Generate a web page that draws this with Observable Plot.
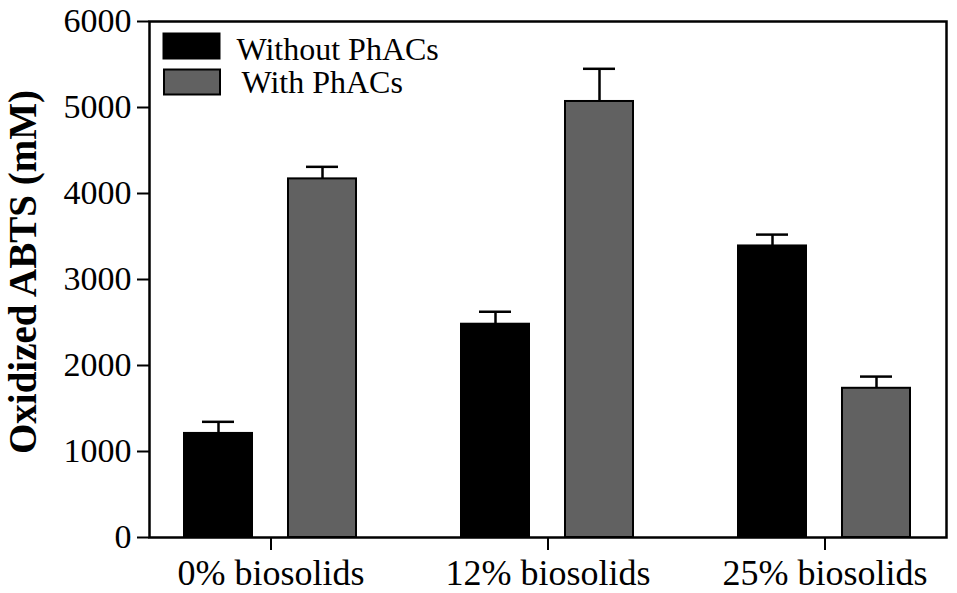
<!DOCTYPE html>
<html>
<head>
<meta charset="utf-8">
<script src="https://cdn.jsdelivr.net/npm/d3@7"></script>
<script src="https://cdn.jsdelivr.net/npm/@observablehq/plot@0.6"></script>
<style>
  html, body { margin: 0; padding: 0; background: #fff; }
</style>
</head>
<body>
<div id="chart"></div>
<script>
const groups = ["0% biosolids", "12% biosolids", "25% biosolids"];
const series = ["Without PhACs", "With PhACs"];
const withoutValues = [1210, 2480, 3390];
const withValues = [4170, 5070, 1735];
const withoutErrors = [135, 145, 132];
const withErrors = [140, 380, 136];
const yTicks = [0, 1000, 2000, 3000, 4000, 5000, 6000];
const seriesColors = ["#000000", "#616161"];
const yLabel = "Oxidized ABTS (mM)";

const data = groups.flatMap((g, i) => [
  {group: g, series: series[0], value: withoutValues[i], err: withoutErrors[i]},
  {group: g, series: series[1], value: withValues[i], err: withErrors[i]}
]);

// rectangular legend swatch symbol
const rectSymbol = {
  draw(ctx) {
    ctx.moveTo(-28, -12.5);
    ctx.lineTo(28, -12.5);
    ctx.lineTo(28, 12.5);
    ctx.lineTo(-28, 12.5);
    ctx.closePath();
  }
};

const legendSwatchDx = [42, 42.5];
const legendSwatchDy = [24.5, 60.5];
const legendTextDx = [87, 92];
const legendTextDy = [28, 61];

const chart = Plot.plot({
  width: 957,
  height: 593,
  marginLeft: 148,
  marginRight: 9,
  marginTop: 21,
  marginBottom: 56,
  style: {
    fontFamily: "'Liberation Serif', 'Times New Roman', serif",
    color: "#000",
    background: "#fff",
    overflow: "visible"
  },
  fx: {domain: groups, paddingInner: 0.122, paddingOuter: 0, label: null, axis: null},
  x: {domain: series, paddingInner: 0.343, paddingOuter: 0.333, axis: null},
  y: {domain: [0, 6000], axis: null},
  color: {domain: series, range: seriesColors},
  marks: [
    Plot.barY(data, {fx: "group", x: "series", y: "value", fill: "series", stroke: "#000", strokeWidth: 2}),
    Plot.ruleX(data, {fx: "group", x: "series", y1: "value", y2: d => d.value + d.err, stroke: "#000", strokeWidth: 2.5}),
    Plot.tickY(data, {fx: "group", x: "series", y: d => d.value + d.err, stroke: "#000", strokeWidth: 2.5, insetLeft: 18, insetRight: 18}),
    Plot.frame({facet: "super", stroke: "#000", strokeWidth: 2.5}),
    Plot.axisY({ticks: yTicks, tickSize: 12, tickPadding: 6, fontSize: 34, tickFormat: d => String(d), label: null, strokeWidth: 2}),
    Plot.axisFx({anchor: "bottom", tickSize: 13, tickPadding: 9, fontSize: 36, label: null, strokeWidth: 2}),
    Plot.text([yLabel], {facet: "super", frameAnchor: "left", text: d => d, rotate: -90, dx: -126, dy: -7.5,
      fontSize: 39, fontWeight: "bold", textAnchor: "middle", lineAnchor: "middle", fill: "#000"}),
    ...series.map((s, i) => Plot.dot([s], {facet: "super", frameAnchor: "top-left", dx: legendSwatchDx[i], dy: legendSwatchDy[i],
      symbol: rectSymbol, r: 10, fill: seriesColors[i], stroke: "#000", strokeWidth: 2})),
    ...series.map((s, i) => Plot.text([s], {facet: "super", frameAnchor: "top-left", text: d => d, dx: legendTextDx[i], dy: legendTextDy[i],
      fontSize: 32, textAnchor: "start", lineAnchor: "middle", fill: "#000"}))
  ]
});

document.getElementById("chart").appendChild(chart);
</script>
</body>
</html>
